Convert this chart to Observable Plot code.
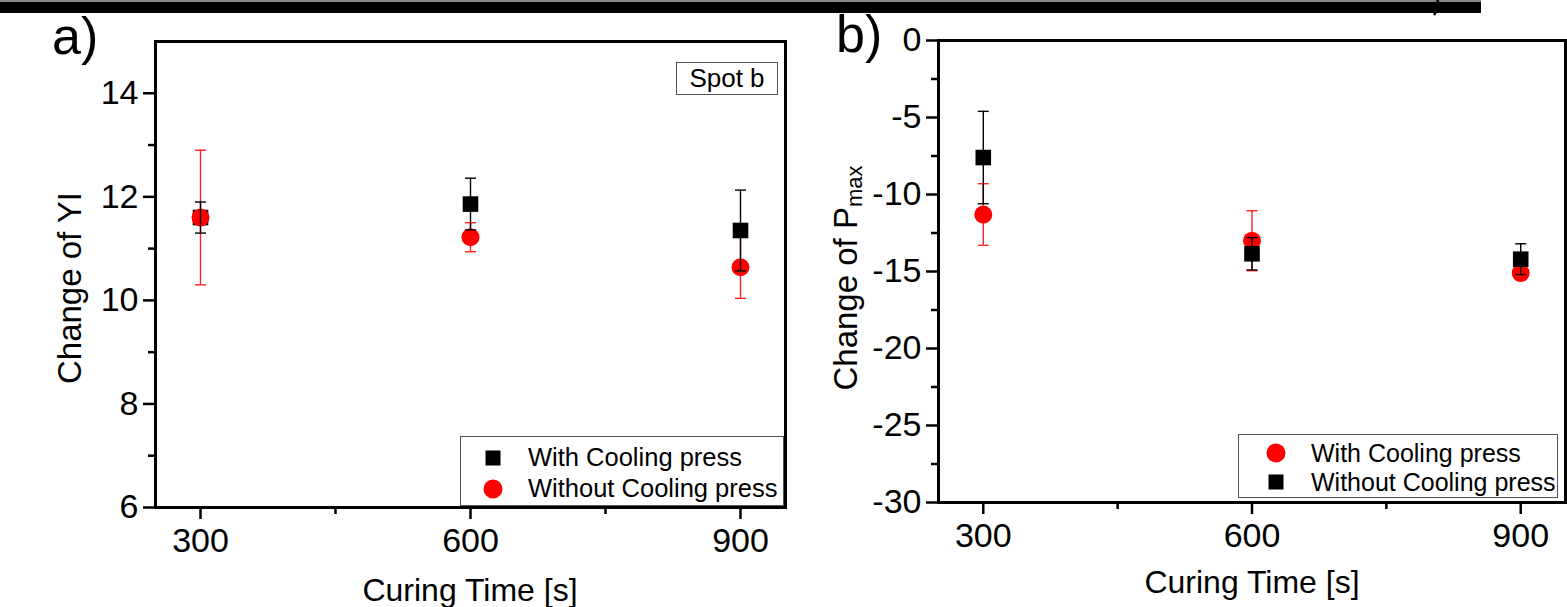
<!DOCTYPE html>
<html>
<head>
<meta charset="utf-8">
<script src="https://cdn.jsdelivr.net/npm/d3@7"></script>
<script src="https://cdn.jsdelivr.net/npm/@observablehq/plot@0.6"></script>
<style>
  html, body { margin: 0; padding: 0; background: #fff; }
  #root { position: relative; width: 1567px; height: 607px; overflow: hidden; background: #fff;
          font-family: "Liberation Sans", Arial, sans-serif; color: #000; }
  .abs { position: absolute; white-space: nowrap; line-height: 1.15; }
  .rot { transform: translate(-50%, -50%) rotate(-90deg); }
  .legend { position: absolute; border: 1.5px solid #555; box-sizing: border-box; background: #fff; }
</style>
</head>
<body>
<div id="root"></div>
<script>
// ---------------- data ----------------
const times = [300, 600, 900];
const xTicks = [300, 600, 900];
const xMinorTicks = [450, 750];

// panel a: Change of YI
const aWithCooling = [11.6, 11.86, 11.35];
const aWithCoolingErr = [0.3, 0.5, 0.78];
const aWithoutCooling = [11.6, 11.22, 10.64];
const aWithoutCoolingErr = [1.3, 0.28, 0.6];
const aYTicks = [6, 8, 10, 12, 14];
const aYMinorTicks = [7, 9, 11, 13];

// panel b: Change of Pmax
const bWithCooling = [-11.3, -13.0, -15.1];
const bWithCoolingErr = [2.0, 1.95, 0.25];
const bWithoutCooling = [-7.6, -13.85, -14.2];
const bWithoutCoolingErr = [3.0, 1.05, 1.0];
const bYTicks = [0, -5, -10, -15, -20, -25, -30];
const bYMinorTicks = [-2.5, -7.5, -12.5, -17.5, -22.5, -27.5];

const legendA = ["With Cooling press", "Without Cooling press"];
const legendB = ["With Cooling press", "Without Cooling press"];

// ---------------- helpers ----------------
const rows = (vals, errs) => times.map((t, i) => ({t, v: vals[i], lo: vals[i] - errs[i], hi: vals[i] + errs[i]}));
const capSymbol = {draw(ctx, size) { const w = Math.sqrt(size / Math.PI); ctx.moveTo(-w, 0); ctx.lineTo(w, 0); }};

function errMarks(data, color) {
  return [
    Plot.ruleX(data, {x: "t", y1: "lo", y2: "hi", stroke: color, strokeWidth: 1.4}),
    Plot.dot(data, {x: "t", y: "hi", symbol: capSymbol, r: 5.5, stroke: color, strokeWidth: 1.4, fill: "none"}),
    Plot.dot(data, {x: "t", y: "lo", symbol: capSymbol, r: 5.5, stroke: color, strokeWidth: 1.4, fill: "none"})
  ];
}
const squares = (data) => Plot.dot(data, {x: "t", y: "v", symbol: "square", r: 8.8, fill: "black", stroke: "none"});
const circles = (data) => Plot.dot(data, {x: "t", y: "v", symbol: "circle", r: 9, fill: "#ff0000", stroke: "none"});

function axes(yTicks, yMinor) {
  const fmt = d => String(d);
  return [
    Plot.axisY(yTicks, {tickSize: 12, tickPadding: 5, strokeWidth: 2.5, tickFormat: fmt, label: null, fontSize: 34}),
    Plot.axisY(yMinor, {tickSize: 7, strokeWidth: 2.5, tickFormat: () => "", label: null}),
    Plot.axisX(xTicks, {tickSize: 12, tickPadding: 8, strokeWidth: 2.5, tickFormat: fmt, label: null, fontSize: 34}),
    Plot.axisX(xMinorTicks, {tickSize: 7, strokeWidth: 2.5, tickFormat: () => "", label: null}),
    Plot.frame({stroke: "black", strokeWidth: 3})
  ];
}

const style = {fontFamily: "Liberation Sans, Arial, sans-serif", fontSize: "34px", background: "transparent", color: "black", overflow: "visible"};

const aW = rows(aWithCooling, aWithCoolingErr);
const aWo = rows(aWithoutCooling, aWithoutCoolingErr);
const plotA = Plot.plot({
  width: 800, height: 607,
  marginLeft: 155, marginRight: 15, marginTop: 41, marginBottom: 100,
  x: {domain: [250, 950]},
  y: {domain: [6, 15]},
  style,
  marks: [
    ...errMarks(aWo, "#ff2020"),
    squares(aW),
    circles(aWo),
    ...errMarks(aW, "black"),
    ...axes(aYTicks, aYMinorTicks)
  ]
});

const bW = rows(bWithCooling, bWithCoolingErr);
const bWo = rows(bWithoutCooling, bWithoutCoolingErr);
const plotB = Plot.plot({
  width: 784, height: 607,
  marginLeft: 155, marginRight: 2, marginTop: 40, marginBottom: 105,
  x: {domain: [250, 950]},
  y: {domain: [-30, 0]},
  style,
  marks: [
    ...errMarks(bW, "#ff2020"),
    circles(bW),
    squares(bWo),
    ...errMarks(bWo, "black"),
    ...axes(bYTicks, bYMinorTicks)
  ]
});

// ---------------- layout ----------------
const root = document.getElementById("root");
function place(el, left, top) { el.style.position = "absolute"; el.style.left = left + "px"; el.style.top = top + "px"; root.appendChild(el); return el; }
place(plotA, 0, 0);
place(plotB, 783, 0);

function text(html, left, top, size, cls) {
  const d = document.createElement("div");
  d.className = "abs " + (cls || "");
  d.innerHTML = html;
  d.style.fontSize = size + "px";
  d.style.left = left + "px"; d.style.top = top + "px";
  root.appendChild(d);
  return d;
}

// top decoration (cropped rule and bracket stroke from the figure above)
const deco = document.createElementNS("http://www.w3.org/2000/svg", "svg");
deco.setAttribute("width", "1567"); deco.setAttribute("height", "20");
Object.assign(deco.style, {position: "absolute", left: "0px", top: "0px"});
deco.innerHTML =
  '<rect x="0" y="0" width="1481" height="2" fill="#888"/>' +
  '<rect x="0" y="2" width="1481" height="11" fill="#000"/>' +
  '<path d="M1432,-8 Q1443,2 1434,15" fill="none" stroke="#000" stroke-width="2.5"/>';
root.appendChild(deco);

// panel labels
text("a)", 52, 7, 52);
text("b)", 836, 5, 52);

// axis titles
text("Curing Time [s]", 470, 590, 32).style.transform = "translate(-50%,-50%)";
text("Curing Time [s]", 1252, 582, 32).style.transform = "translate(-50%,-50%)";
text("Change of YI", 70, 288, 33, "rot");
text('Change of P<span style="font-size:22px;position:relative;top:5px">max</span>', 846, 278, 33, "rot");

// Spot b box
const spot = text("Spot b", 676, 62, 26);
Object.assign(spot.style, {width: "102px", height: "33px", border: "1.5px solid #555", boxSizing: "border-box", display: "flex", alignItems: "center", justifyContent: "center", background: "#fff"});

// legends
function symbolSvg(kind) {
  return kind === "square"
    ? '<svg width="16" height="16"><rect x="0.5" y="0.5" width="15" height="15" fill="black"/></svg>'
    : '<svg width="20" height="20"><circle cx="10" cy="10" r="9.5" fill="#ff0000"/></svg>';
}
function legend(left, top, w, h, entries, symX, textX, rowYs, fs) {
  const box = document.createElement("div");
  box.className = "legend";
  Object.assign(box.style, {left: left + "px", top: top + "px", width: w + "px", height: h + "px"});
  entries.forEach((e, i) => {
    const sym = document.createElement("div");
    sym.innerHTML = symbolSvg(e.kind);
    Object.assign(sym.style, {position: "absolute", left: symX + "px", top: rowYs[i] + "px", transform: "translate(-50%,-50%)", lineHeight: 0});
    box.appendChild(sym);
    const t = document.createElement("div");
    t.textContent = e.label;
    Object.assign(t.style, {position: "absolute", left: textX + "px", top: rowYs[i] + "px", transform: "translateY(-50%)", fontSize: fs + "px", whiteSpace: "nowrap", lineHeight: "1.15"});
    box.appendChild(t);
  });
  root.appendChild(box);
}
legend(460, 436, 324, 70, [{kind: "square", label: legendA[0]}, {kind: "circle", label: legendA[1]}], 32, 67, [21, 52], 25.5);
legend(1238, 434, 320, 64, [{kind: "circle", label: legendB[0]}, {kind: "square", label: legendB[1]}], 37, 72, [18, 47], 25);
</script>
</body>
</html>
